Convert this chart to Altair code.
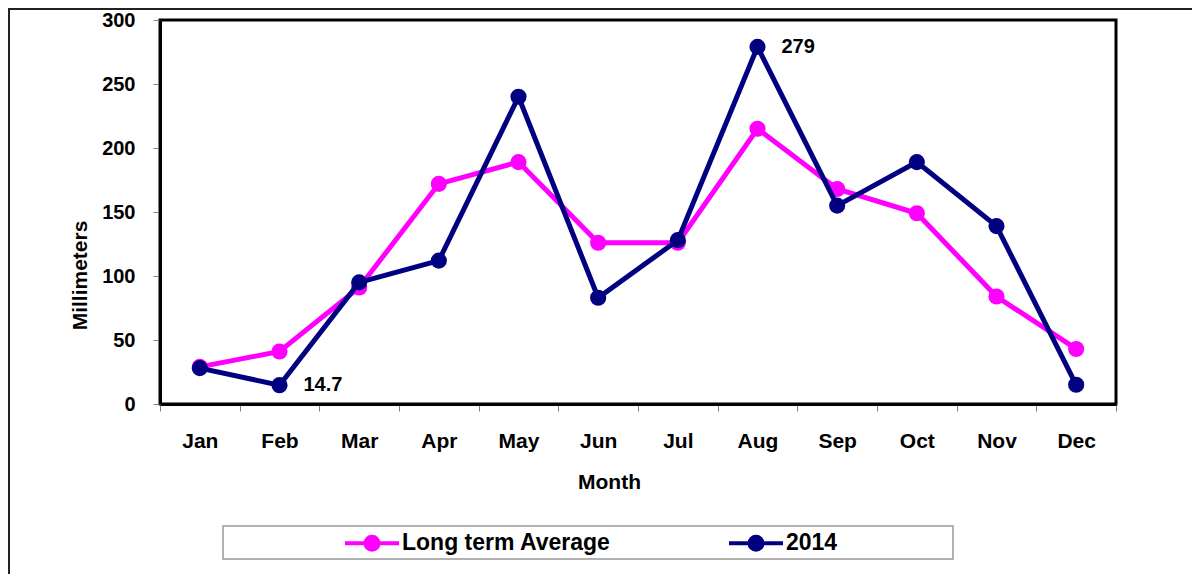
import altair as alt
import pandas as pd

months = ["Jan", "Feb", "Mar", "Apr", "May", "Jun", "Jul", "Aug", "Sep", "Oct", "Nov", "Dec"]
long_term_avg = [29, 41, 91, 172, 189, 126, 126, 215, 168, 149, 84, 43]
rain_2014 = [28, 14.7, 95, 112, 240, 83, 128, 279, 155, 189, 139, 15]
labels_2014 = ["", "14.7", "", "", "", "", "", "279", "", "", "", ""]
series = ["Long term Average", "2014"]
colors = ["#FF00FF", "#000080"]
y_ticks = [0, 50, 100, 150, 200, 250, 300]

FONT = "Liberation Sans"

rows = []
for m, v in zip(months, long_term_avg):
    rows.append({"Month": m, "Value": v, "Series": series[0], "Label": ""})
for m, v, lab in zip(months, rain_2014, labels_2014):
    rows.append({"Month": m, "Value": v, "Series": series[1], "Label": lab})
df = pd.DataFrame(rows)

x_enc = alt.X(
    "Month:N",
    sort=months,
    scale=alt.Scale(type="band", paddingInner=0, paddingOuter=0),
    axis=alt.Axis(
        title="Month", labelAngle=0, tickBand="extent", tickSize=7,
        tickColor="#808080", tickWidth=1, domainColor="black", domainWidth=3,
        labelFont=FONT, labelFontSize=21, labelFontWeight="bold", labelColor="black",
        labelPadding=19, titleFont=FONT, titleFontSize=21, titleFontWeight="bold",
        titleColor="black", titleX=449, titleY=78, titleAlign="center",
        titleBaseline="middle", grid=False,
    ),
)
y_enc = alt.Y(
    "Value:Q",
    scale=alt.Scale(domain=[0, 300], nice=False),
    axis=alt.Axis(
        title="Millimeters", values=y_ticks, tickSize=7, tickColor="#808080",
        tickWidth=1, domainColor="black", domainWidth=3,
        labelFont=FONT, labelFontSize=20, labelFontWeight="bold", labelColor="black",
        labelPadding=18, titleFont=FONT, titleFontSize=21, titleFontWeight="bold",
        titleColor="black", titleAngle=270, titleX=-80, titleY=255,
        titleAlign="center", titleBaseline="middle", grid=False,
    ),
)

legend = alt.Legend(
    title=None, orient="none", direction="horizontal", legendX=183, legendY=494,
    padding=0, columnPadding=110, labelOffset=1,
    symbolType="M-1,0L1,0M-0.24,0A0.24,0.24,0,1,0,0.24,0A0.24,0.24,0,1,0,-0.24,0Z",
    symbolSize=2916, symbolStrokeWidth=4, symbolOpacity=1,
    labelFont=FONT, labelFontSize=23, labelFontWeight="bold", labelColor="black",
    labelLimit=400,
)
series_scale = alt.Scale(domain=series, range=colors)
stroke_enc = alt.Stroke("Series:N", scale=series_scale, legend=legend)
fill_enc = alt.Fill("Series:N", scale=series_scale, legend=legend)

base = alt.Chart(df)
layers = []
for s in series:
    sub = base.transform_filter(alt.datum.Series == s)
    layers.append(sub.mark_line(strokeWidth=5).encode(x=x_enc, y=y_enc, stroke=stroke_enc))
    layers.append(sub.mark_point(filled=True, size=260, opacity=1, strokeWidth=0).encode(
        x=x_enc, y=y_enc, fill=fill_enc, stroke=stroke_enc))

labels = base.transform_filter(alt.datum.Label != "").mark_text(
    align="left", baseline="middle", dx=24, font=FONT, fontSize=20,
    fontWeight="bold", color="black",
).encode(x=x_enc, y=y_enc, text="Label:N")

deco = alt.Chart(pd.DataFrame({"d": [0]}))
legend_box = deco.mark_rect(fill="white", stroke="#999999", strokeWidth=1.5).encode(
    x=alt.value(63), x2=alt.value(793), y=alt.value(506), y2=alt.value(539)
)
frame_top = deco.mark_rule(color="#222222", strokeWidth=2).encode(
    x=alt.value(-152), x2=alt.value(1032), y=alt.value(-11)
)
frame_left = deco.mark_rule(color="#222222", strokeWidth=2).encode(
    x=alt.value(-151), y=alt.value(-12), y2=alt.value(554)
)

chart = alt.layer(legend_box, frame_top, frame_left, *layers, labels).properties(
    width=956, height=384,
    autosize=alt.AutoSizeParams(type="none"),
    padding={"left": 152, "top": 12, "right": 76, "bottom": 170},
    background="white",
).configure_view(stroke="black", strokeWidth=3)

chart.save("out.html", embed_options={"renderer": "svg", "actions": False})
